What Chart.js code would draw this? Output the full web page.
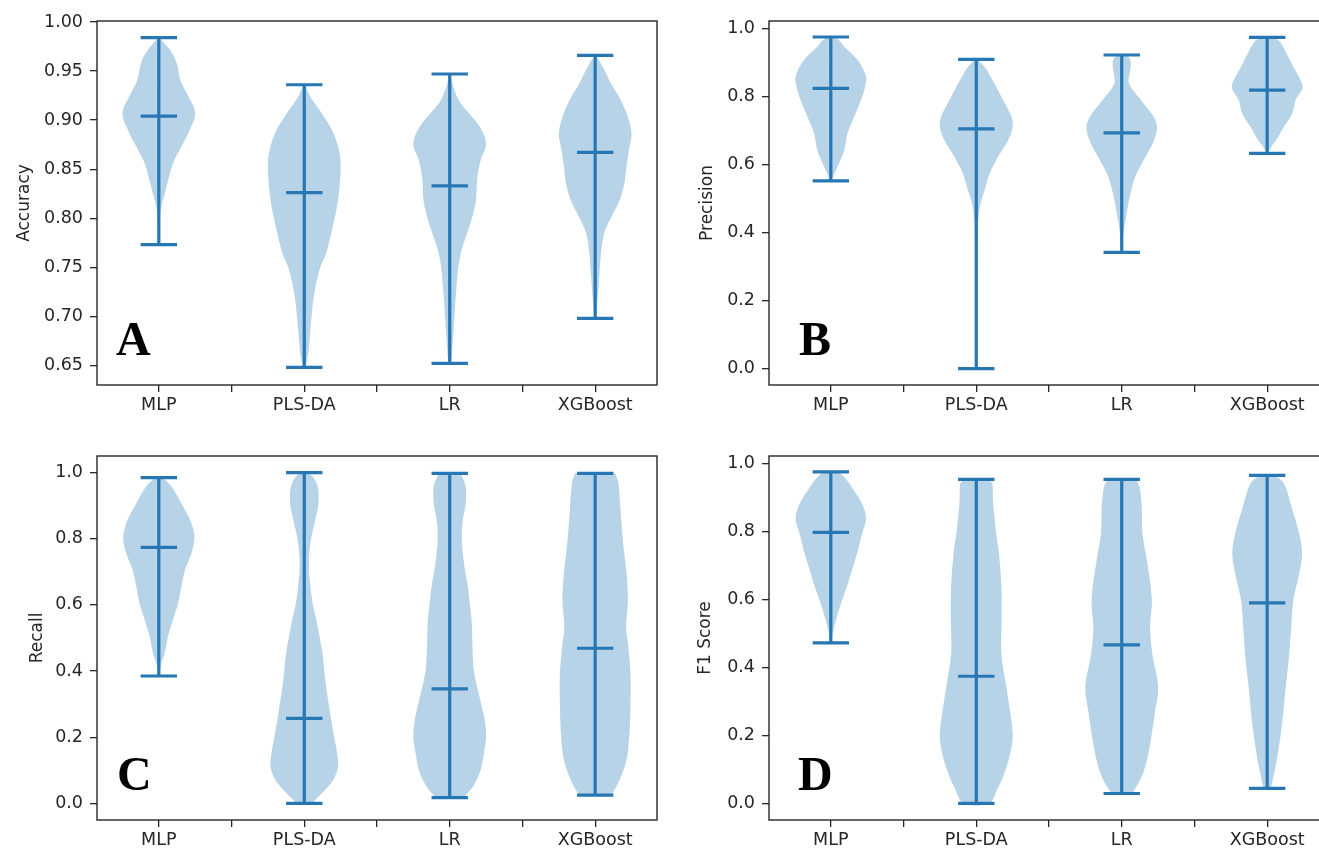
<!DOCTYPE html>
<html>
<head>
<meta charset="utf-8">
<script src="https://cdn.jsdelivr.net/npm/chart.js@4.4.0/dist/chart.umd.min.js"></script>
<style>
  html, body { margin: 0; padding: 0; background: #fff; overflow: hidden; }
  #page { position: relative; width: 1319px; height: 853px; overflow: hidden; background: #fff; }
  #page canvas { position: absolute; }
</style>
</head>
<body>
<div id="page">
  <canvas id="chart-a" width="680" height="420" style="left:0;top:0"></canvas>
  <canvas id="chart-b" width="680" height="420" style="left:672px;top:0"></canvas>
  <canvas id="chart-c" width="680" height="420" style="left:0;top:435px"></canvas>
  <canvas id="chart-d" width="680" height="420" style="left:672px;top:435px"></canvas>
</div>
<script>
const models = ['MLP', 'PLS-DA', 'LR', 'XGBoost'];
const categoryTicks = [1, 1.5, 2, 2.5, 3, 3.5, 4];

// A - accuracy
const accuracyTicks = [0.65, 0.70, 0.75, 0.80, 0.85, 0.90, 0.95, 1.00];
const accuracyMin = [0.773, 0.648, 0.652, 0.698];
const accuracyMax = [0.984, 0.936, 0.947, 0.966];
const accuracyMid = [0.904, 0.826, 0.833, 0.867];
// violin outline: [value, relative half width], top to bottom
const accuracyShape = [
  [[0.984,0.02],[0.978,0.16],[0.968,0.37],[0.957,0.5],[0.94,0.6],[0.923,0.83],[0.907,1.0],[0.89,0.85],[0.873,0.62],[0.856,0.39],[0.839,0.26],[0.822,0.14],[0.812,0.07],[0.795,0.02],[0.773,0.01]],
  [[0.936,0.02],[0.923,0.18],[0.907,0.48],[0.89,0.76],[0.873,0.93],[0.856,1.0],[0.832,0.97],[0.812,0.9],[0.791,0.78],[0.764,0.6],[0.751,0.45],[0.734,0.33],[0.717,0.25],[0.7,0.2],[0.683,0.16],[0.666,0.12],[0.656,0.08],[0.648,0.02]],
  [[0.947,0.02],[0.936,0.08],[0.92,0.25],[0.91,0.46],[0.893,0.83],[0.876,1.0],[0.859,0.85],[0.842,0.76],[0.818,0.72],[0.801,0.62],[0.785,0.48],[0.768,0.33],[0.751,0.24],[0.727,0.18],[0.7,0.13],[0.673,0.08],[0.652,0.03]],
  [[0.966,0.02],[0.954,0.21],[0.937,0.44],[0.92,0.71],[0.903,0.9],[0.886,1.0],[0.868,0.92],[0.852,0.86],[0.835,0.8],[0.818,0.67],[0.801,0.44],[0.785,0.25],[0.764,0.16],[0.734,0.1],[0.71,0.05],[0.698,0.02]]
];

// B - precision
const scoreTicks = [0.0, 0.2, 0.4, 0.6, 0.8, 1.0];
const precisionMin = [0.552, 0.0, 0.342, 0.633];
const precisionMax = [0.975, 0.909, 0.922, 0.974];
const precisionMid = [0.824, 0.705, 0.693, 0.819];
const precisionShape = [
  [[0.975,0.1],[0.966,0.22],[0.946,0.37],[0.907,0.74],[0.858,0.97],[0.828,0.94],[0.789,0.83],[0.74,0.64],[0.691,0.46],[0.642,0.37],[0.593,0.18],[0.565,0.06],[0.552,0.02]],
  [[0.909,0.03],[0.887,0.23],[0.838,0.5],[0.789,0.74],[0.74,0.97],[0.711,1.0],[0.672,0.88],[0.623,0.6],[0.574,0.37],[0.525,0.23],[0.476,0.1],[0.4,0.04],[0.2,0.02],[0.0,0.01]],
  [[0.922,0.05],[0.915,0.2],[0.897,0.25],[0.87,0.22],[0.838,0.2],[0.789,0.53],[0.74,0.88],[0.706,0.97],[0.662,0.85],[0.613,0.6],[0.564,0.37],[0.495,0.2],[0.447,0.12],[0.398,0.05],[0.342,0.01]],
  [[0.974,0.15],[0.961,0.35],[0.927,0.53],[0.887,0.72],[0.848,0.92],[0.824,0.97],[0.789,0.78],[0.75,0.69],[0.711,0.46],[0.672,0.25],[0.65,0.1],[0.633,0.02]]
];

// C - recall
const recallMin = [0.385, 0.0, 0.017, 0.025];
const recallMax = [0.985, 1.0, 0.998, 0.998];
const recallMid = [0.774, 0.257, 0.346, 0.469];
const recallShape = [
  [[0.985,0.05],[0.98,0.15],[0.958,0.35],[0.907,0.62],[0.857,0.86],[0.807,0.98],[0.757,0.9],[0.706,0.72],[0.656,0.62],[0.605,0.53],[0.555,0.39],[0.504,0.25],[0.454,0.16],[0.42,0.06],[0.385,0.01]],
  [[1.0,0.05],[0.99,0.22],[0.958,0.37],[0.907,0.39],[0.857,0.3],[0.807,0.2],[0.757,0.14],[0.706,0.13],[0.656,0.17],[0.605,0.23],[0.555,0.33],[0.504,0.42],[0.454,0.5],[0.404,0.55],[0.353,0.6],[0.303,0.67],[0.253,0.74],[0.202,0.82],[0.152,0.9],[0.111,0.93],[0.071,0.8],[0.04,0.57],[0.01,0.3],[0.0,0.2]],
  [[0.998,0.3],[0.958,0.44],[0.907,0.44],[0.857,0.36],[0.807,0.33],[0.757,0.36],[0.706,0.42],[0.656,0.5],[0.605,0.55],[0.555,0.6],[0.504,0.62],[0.454,0.63],[0.404,0.66],[0.353,0.75],[0.303,0.86],[0.253,0.96],[0.202,1.0],[0.152,0.94],[0.101,0.85],[0.061,0.69],[0.031,0.5],[0.017,0.35]],
  [[0.998,0.55],[0.968,0.64],[0.897,0.69],[0.796,0.76],[0.696,0.86],[0.615,0.9],[0.534,0.85],[0.474,0.91],[0.393,0.97],[0.292,0.97],[0.191,0.93],[0.131,0.86],[0.081,0.71],[0.04,0.53],[0.025,0.4]]
];

// D - F1 score
const f1Min = [0.472, 0.0, 0.029, 0.044];
const f1Max = [0.975, 0.953, 0.953, 0.965];
const f1Mid = [0.797, 0.374, 0.466, 0.59];
const f1Shape = [
  [[0.975,0.2],[0.96,0.37],[0.92,0.64],[0.881,0.86],[0.838,0.97],[0.794,0.86],[0.735,0.72],[0.686,0.58],[0.637,0.44],[0.588,0.28],[0.539,0.14],[0.5,0.05],[0.472,0.01]],
  [[0.953,0.35],[0.94,0.44],[0.89,0.46],[0.84,0.5],[0.79,0.55],[0.74,0.62],[0.64,0.69],[0.54,0.7],[0.44,0.69],[0.34,0.83],[0.24,0.97],[0.19,1.0],[0.14,0.92],[0.091,0.78],[0.042,0.58],[0.0,0.35]],
  [[0.953,0.4],[0.931,0.49],[0.872,0.55],[0.794,0.57],[0.716,0.69],[0.598,0.83],[0.519,0.78],[0.441,0.84],[0.343,1.0],[0.265,0.91],[0.186,0.8],[0.127,0.69],[0.078,0.55],[0.044,0.37],[0.029,0.25]],
  [[0.965,0.2],[0.941,0.46],[0.872,0.67],[0.794,0.88],[0.735,0.96],[0.676,0.88],[0.598,0.72],[0.519,0.66],[0.431,0.6],[0.333,0.5],[0.235,0.41],[0.137,0.28],[0.078,0.17],[0.044,0.08]]
];

const LINE_BLUE = '#2777b4';
const BODY_FILL = 'rgba(31, 119, 180, 0.32)';
const TEXT = '#262626';
const FONT = '"DejaVu Sans", Verdana, sans-serif';
const HALF_WIDTH = 0.25;   // widest violin half width in x units
const CAP_HALF = 0.125;    // half length of the min/max/median bars

function violinBody(shape, pos) {
  const right = shape.map(([v, w]) => ({x: pos + w * HALF_WIDTH, y: v}));
  const left = shape.slice().reverse().map(([v, w]) => ({x: pos - w * HALF_WIDTH, y: v}));
  return right.concat(left);
}

// several separate segments in one dataset, broken by null points
function segments(list) {
  const data = [];
  list.forEach((seg, i) => {
    if (i > 0) data.push({x: seg[0].x, y: null});
    data.push(seg[0], seg[1]);
  });
  return data;
}

function hbars(values) {
  return segments(values.map((v, i) => [{x: i + 1 - CAP_HALF, y: v}, {x: i + 1 + CAP_HALF, y: v}]));
}

const panelPlugin = {
  id: 'panelFrame',
  afterDraw(chart, args, opts) {
    const {ctx, chartArea: a} = chart;
    ctx.save();
    ctx.strokeStyle = TEXT;
    ctx.lineWidth = 1.4;
    ctx.strokeRect(a.left, a.top, a.right - a.left, a.bottom - a.top);
    ctx.fillStyle = '#000';
    ctx.font = 'bold 48px "Liberation Serif", "Times New Roman", serif';
    ctx.textBaseline = 'alphabetic';
    ctx.fillText(opts.letter, a.left + opts.dx, a.bottom - opts.dy);
    ctx.restore();
  }
};

function makePanel(id, p) {
  const datasets = p.shapes.map((shape, i) => ({
    data: violinBody(shape, i + 1),
    fill: 'shape',
    backgroundColor: BODY_FILL,
    borderColor: 'rgba(0,0,0,0)',
    borderWidth: 0,
    pointRadius: 0,
    tension: 0.35,
    order: 2
  }));

  const lineStyle = {
    fill: false,
    borderColor: LINE_BLUE,
    borderWidth: 3.2,
    pointRadius: 0,
    tension: 0,
    spanGaps: false,
    order: 1
  };
  datasets.push({...lineStyle, data: segments(p.min.map((v, i) => [{x: i + 1, y: v}, {x: i + 1, y: p.max[i]}]))});
  datasets.push({...lineStyle, data: hbars(p.max)});
  datasets.push({...lineStyle, data: hbars(p.min)});
  datasets.push({...lineStyle, data: hbars(p.mid)});

  const tickFont = {family: FONT, size: 17.5};
  const grid = {drawOnChartArea: false, drawTicks: true, tickLength: 7, color: TEXT, lineWidth: 1.3};

  new Chart(document.getElementById(id).getContext('2d'), {
    type: 'line',
    data: {datasets},
    options: {
      responsive: false,
      animation: false,
      events: [],
      layout: {padding: {top: 21, right: 23, left: 0, bottom: 0}},
      plugins: {
        legend: {display: false},
        tooltip: {enabled: false},
        panelFrame: {letter: p.letter, dx: p.letterDx, dy: 30}
      },
      scales: {
        x: {
          type: 'linear',
          min: 0.575,
          max: 4.425,
          afterBuildTicks: s => { s.ticks = categoryTicks.map(v => ({value: v})); },
          afterFit: s => { s.height = 35; },
          ticks: {
            autoSkip: false,
            maxRotation: 0,
            padding: 3,
            color: TEXT,
            font: tickFont,
            callback: v => Number.isInteger(v) ? models[v - 1] : ''
          },
          grid: grid,
          border: {display: false}
        },
        y: {
          type: 'linear',
          min: p.yMin,
          max: p.yMax,
          afterBuildTicks: s => { s.ticks = p.ticks.map(v => ({value: v})); },
          afterFit: s => { s.width = 97; },
          ticks: {
            padding: 7,
            color: TEXT,
            font: tickFont,
            callback: v => v.toFixed(p.decimals)
          },
          grid: grid,
          border: {display: false},
          title: {
            display: true,
            text: p.label,
            color: TEXT,
            font: {family: FONT, size: 17},
            padding: {top: p.titlePad, bottom: 0}
          }
        }
      }
    },
    plugins: [panelPlugin]
  });
}

makePanel('chart-a', {
  shapes: accuracyShape, min: accuracyMin, max: accuracyMax, mid: accuracyMid,
  ticks: accuracyTicks, decimals: 2, yMin: 0.630, yMax: 1.001,
  label: 'Accuracy', titlePad: 14, letter: 'A', letterDx: 19
});
makePanel('chart-b', {
  shapes: precisionShape, min: precisionMin, max: precisionMax, mid: precisionMid,
  ticks: scoreTicks, decimals: 1, yMin: -0.048, yMax: 1.022,
  label: 'Precision', titlePad: 25, letter: 'B', letterDx: 30
});
makePanel('chart-c', {
  shapes: recallShape, min: recallMin, max: recallMax, mid: recallMid,
  ticks: scoreTicks, decimals: 1, yMin: -0.0505, yMax: 1.0505,
  label: 'Recall', titlePad: 27, letter: 'C', letterDx: 20
});
makePanel('chart-d', {
  shapes: f1Shape, min: f1Min, max: f1Max, mid: f1Mid,
  ticks: scoreTicks, decimals: 1, yMin: -0.049, yMax: 1.022,
  label: 'F1 Score', titlePad: 23, letter: 'D', letterDx: 29
});
</script>
</body>
</html>
